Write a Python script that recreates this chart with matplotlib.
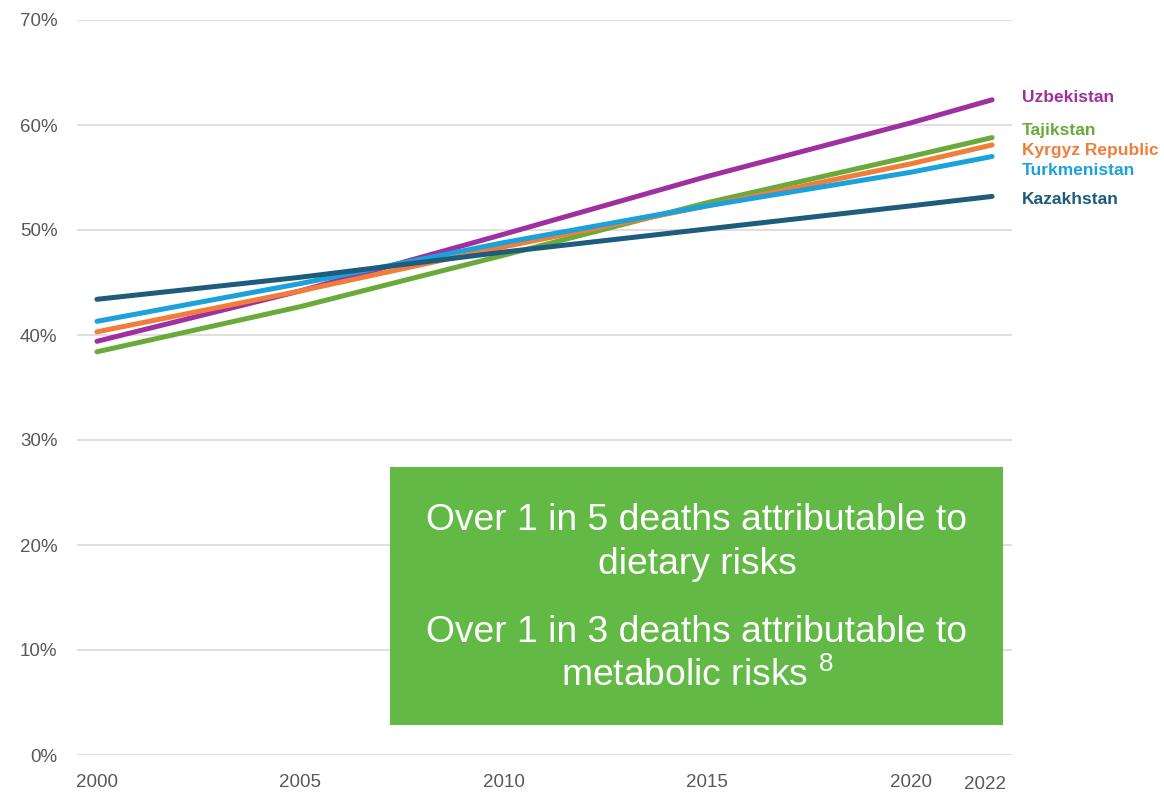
import matplotlib
matplotlib.use("Agg")
import matplotlib.pyplot as plt
from matplotlib.patches import Rectangle
from matplotlib.transforms import ScaledTranslation

years = [2000, 2005, 2010, 2015, 2020, 2022]
countries = ["Uzbekistan", "Tajikstan", "Kyrgyz Republic", "Turkmenistan", "Kazakhstan"]
uzbekistan = [39.4, 44.2, 49.6, 55.1, 60.2, 62.4]
tajikstan = [38.4, 42.7, 47.6, 52.6, 57.0, 58.8]
kyrgyz = [40.3, 44.2, 48.4, 52.3, 56.3, 58.1]
turkmenistan = [41.3, 44.9, 48.8, 52.3, 55.5, 57.0]
kazakhstan = [43.4, 45.5, 47.9, 50.1, 52.3, 53.2]
series = [uzbekistan, tajikstan, kyrgyz, turkmenistan, kazakhstan]
colors = ["#A0309F", "#6AAA3A", "#F07D3A", "#1BA1DC", "#1D5C7C"]
label_y = [62.6, 59.5, 57.6, 55.7, 52.95]
yticks = [0, 10, 20, 30, 40, 50, 60, 70]
xticks = [2000, 2005, 2010, 2015, 2020, 2022]
box_lines = ["Over 1 in 5 deaths attributable to", "dietary risks",
             "Over 1 in 3 deaths attributable to", "metabolic risks $^{\\mathregular{8}}$"]

W, H = 1164, 793
fig = plt.figure(figsize=(W / 100, H / 100), dpi=100)
ax = fig.add_axes([77 / W, (H - 755) / H, (1012 - 77) / W, (755 - 20) / H])
ax.set_xlim(1999.51, 2022.49)
ax.set_ylim(0, 70)
for s in ax.spines.values():
    s.set_visible(False)
ax.set_yticks(yticks)
ax.set_yticklabels([f"{v}%" for v in yticks])
ax.set_xticks(xticks)
ax.set_xticklabels([str(v) for v in xticks])
ax.tick_params(length=0, colors="#595959")
ax.tick_params(axis="y", pad=14)
ax.tick_params(axis="x", pad=14)
for lab in ax.get_yticklabels() + ax.get_xticklabels():
    lab.set_fontfamily("Liberation Sans")
    lab.set_fontsize(13.5)
# 2022 label sits slightly left and lower in the reference
last = ax.get_xticklabels()[-1]
last.set_transform(last.get_transform() + ScaledTranslation(-7 / 100, -2 / 100, fig.dpi_scale_trans))
ax.grid(axis="y", color="#D9D9D9", linewidth=1.2)
ax.set_axisbelow(True)

for name, vals, c, ly in zip(countries, series, colors, label_y):
    ax.plot(years, vals, color=c, linewidth=3.6, solid_capstyle="round", zorder=3)
    fig.text(1022 / W, (ly / 70 * (755 - 20) + (H - 755)) / H, name, color=c,
             fontsize=12.5, fontweight="bold", family="Liberation Sans",
             ha="left", va="center")

fig.patches.append(Rectangle((390 / W, (H - 725) / H), (1003 - 390) / W, (725 - 467) / H,
                             transform=fig.transFigure, facecolor="#62B946",
                             edgecolor="none", zorder=5))
for txt, yy in zip(box_lines, [521, 564, 632, 676]):
    fig.text(697 / W, (H - yy) / H, txt, color="white", fontsize=26.8,
             family="Liberation Sans", ha="center", va="center", zorder=6)

fig.savefig("out.png", dpi=100)
